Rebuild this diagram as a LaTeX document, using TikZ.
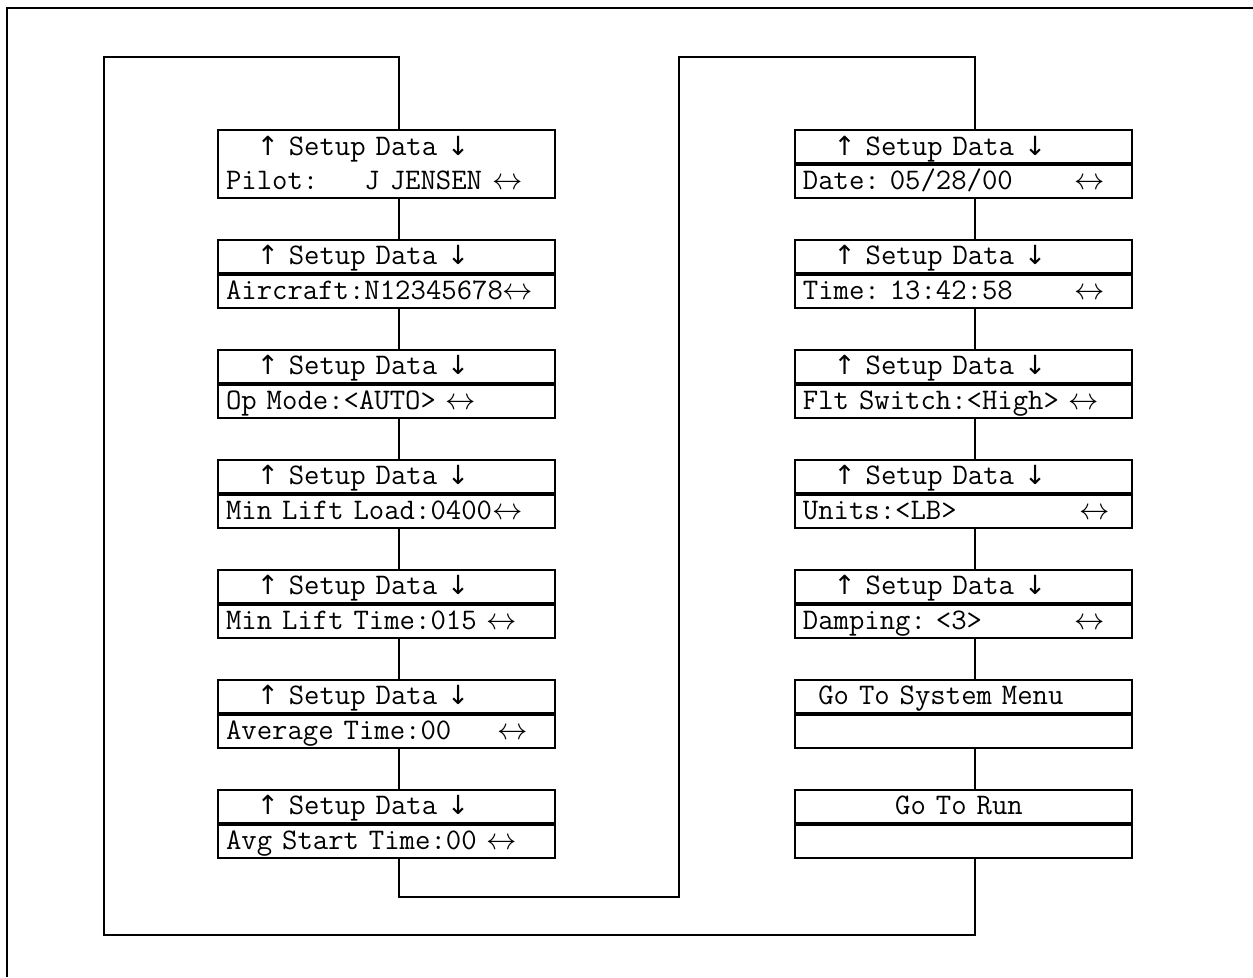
\documentclass[tikz,border=0pt]{standalone}
\usepackage{fontspec}
\newfontfamily\arrowfont{DejaVu Sans}
\usetikzlibrary{positioning}

% one blank character cell per space, fixed
\newcommand\fixspace{\frenchspacing\fontdimen2\font=\fontcharwd\font`\0
  \fontdimen3\font=0pt \fontdimen4\font=0pt \fontdimen7\font=0pt }
\newcommand\gap[1]{\hspace*{#1\fontcharwd\font`\0}}
% two display lines
\newcommand\lcd[2]{\rule{0pt}{0.5cm}#1\\#2\rule[-0.16cm]{0pt}{0pt}}
\newcommand\up{{\arrowfont\fontsize{15pt}{0.7cm}\selectfont ↑}}
\newcommand\down{{\arrowfont\fontsize{15pt}{0.7cm}\selectfont ↓}}
\newcommand\lr{$\leftrightarrow$}
\newcommand\head{\gap{2}\up{} Setup Data \down}

\begin{document}
\begin{tikzpicture}[
    x=0.02cm, y=-0.02cm,
    node distance=0.84cm and 4.8cm,
    lcd/.style={rectangle, draw, line width=1.1pt, outer sep=0pt,
      inner xsep=0.16cm, inner ysep=0pt, text width=6.42cm, align=left,
      font=\ttfamily\fontsize{17pt}{0.7cm}\selectfont\fixspace},
    split/.style={lcd, path picture={
      \draw[line width=1.9pt] (path picture bounding box.west)
        -- (path picture bounding box.east);}},
    link/.style={line width=1.1pt}
]
\useasboundingbox (0,0) rectangle (1253,977);
\draw[link] (1253,8) -- (7,8) -- (7,977);

\node[lcd] (L1) at (386.5,164) {\lcd{\head}{Pilot:\gap{3}J JENSEN \lr}};
\node[split, below=of L1] (L2) {\lcd{\head}{Aircraft:N12345678\lr}};
\node[split, below=of L2] (L3) {\lcd{\head}{Op Mode:<AUTO> \lr}};
\node[split, below=of L3] (L4) {\lcd{\head}{Min Lift Load:0400\lr}};
\node[split, below=of L4] (L5) {\lcd{\head}{Min Lift Time:015 \lr}};
\node[split, below=of L5] (L6) {\lcd{\head}{Average Time:00\gap{3}\lr}};
\node[split, below=of L6] (L7) {\lcd{\head}{Avg Start Time:00 \lr}};

\node[split, right=of L1] (R1) {\lcd{\head}{Date: 05/28/00\gap{4}\lr}};
\node[split, below=of R1] (R2) {\lcd{\head}{Time: 13:42:58\gap{4}\lr}};
\node[split, below=of R2] (R3) {\lcd{\head}{Flt Switch:<High> \lr}};
\node[split, below=of R3] (R4) {\lcd{\head}{Units:<LB>\gap{8}\lr}};
\node[split, below=of R4] (R5) {\lcd{\head}{Damping: <3>\gap{6}\lr}};
\node[split, below=of R5] (R6) {\lcd{\gap{1}Go To System Menu}{}};
\node[split, below=of R6] (R7) {\lcd{\gap{6}Go To Run}{}};

\coordinate (spineL) at (399,0);
\coordinate (spineR) at (975,0);
\coordinate (outerNW) at (104,57);
\coordinate (outerSE) at (975,935);
\coordinate (innerSW) at (679,897);
\coordinate (innerNE) at (975,57);

\draw[link] (L1.south -| spineL) -- (L2.north -| spineL);
\draw[link] (L2.south -| spineL) -- (L3.north -| spineL);
\draw[link] (L3.south -| spineL) -- (L4.north -| spineL);
\draw[link] (L4.south -| spineL) -- (L5.north -| spineL);
\draw[link] (L5.south -| spineL) -- (L6.north -| spineL);
\draw[link] (L6.south -| spineL) -- (L7.north -| spineL);
\draw[link] (R1.south -| spineR) -- (R2.north -| spineR);
\draw[link] (R2.south -| spineR) -- (R3.north -| spineR);
\draw[link] (R3.south -| spineR) -- (R4.north -| spineR);
\draw[link] (R4.south -| spineR) -- (R5.north -| spineR);
\draw[link] (R5.south -| spineR) -- (R6.north -| spineR);
\draw[link] (R6.south -| spineR) -- (R7.north -| spineR);

\draw[link] (L1.north -| spineL) |- (outerNW) |- (outerSE) -- (R7.south -| spineR);
\draw[link] (L7.south -| spineL) |- (innerSW) |- (innerNE) -- (R1.north -| spineR);

\end{tikzpicture}
\end{document}
